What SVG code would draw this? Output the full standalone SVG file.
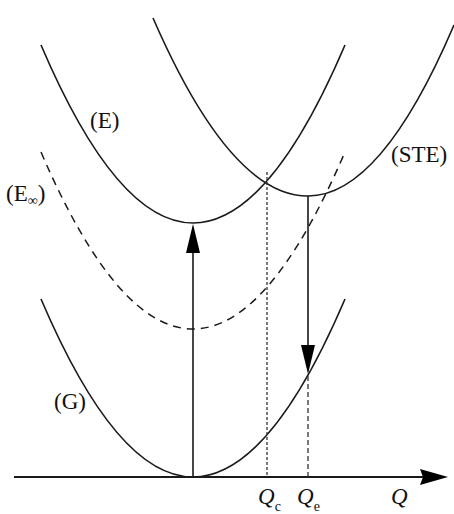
<svg xmlns="http://www.w3.org/2000/svg" width="454" height="514" viewBox="0 0 454 514">
<style>
.c{fill:none;stroke:#1a1a1a;stroke-width:1.6}
.d{fill:none;stroke:#1a1a1a;stroke-width:1.5;stroke-dasharray:8 6}
.v{fill:none;stroke:#333;stroke-width:1.3}
.a{fill:#000}
.t{font-family:"Liberation Serif",serif;font-size:23px;fill:#111}
.q{font-family:"Liberation Serif",serif;font-size:23px;font-style:italic;fill:#111}
.s{font-family:"Liberation Serif",serif;font-size:14px;font-style:normal;fill:#111}
</style>
<rect width="454" height="514" fill="#fff"/>
<g id="curve-G"><path class="c" d="M41,299 Q193,655 345,299"/><text class="t" x="54" y="409">(G)</text></g>
<g id="curve-E"><path class="c" d="M41,45 Q193,401 345,45"/><text class="t" x="90" y="128">(E)</text></g>
<g id="curve-STE"><path class="c" d="M153,18 Q230.5,196 308,196 Q381,196 454,25"/><text class="t" x="391" y="162">(STE)</text></g>
<g id="curve-Einf"><path class="d" d="M41,152 Q193,506 345,152"/><text class="t" x="6" y="201">(E<tspan class="s" dy="4">∞</tspan><tspan dy="-4">)</tspan></text></g>
<g id="connectors">
<path class="c" d="M14,477 H425" style="stroke-width:2"/>
<polygon class="a" points="448,477 420,469 423,477 420,485"/>
<path class="c" d="M193,477 V250"/>
<polygon class="a" points="193,224 186,253 200,253"/>
<path class="c" d="M308,196 V350"/>
<polygon class="a" points="308,374 301,345 315,345"/>
<path class="v" d="M267,172 V477" style="stroke-dasharray:3 2"/>
<path class="v" d="M308,376 V477" style="stroke-dasharray:5 3"/>
</g>
<g id="axis-labels">
<text class="q" x="258" y="504">Q<tspan class="s" dy="7">c</tspan></text>
<text class="q" x="297" y="504">Q<tspan class="s" dy="7">e</tspan></text>
<text class="q" x="391" y="504">Q</text>
</g>
</svg>
